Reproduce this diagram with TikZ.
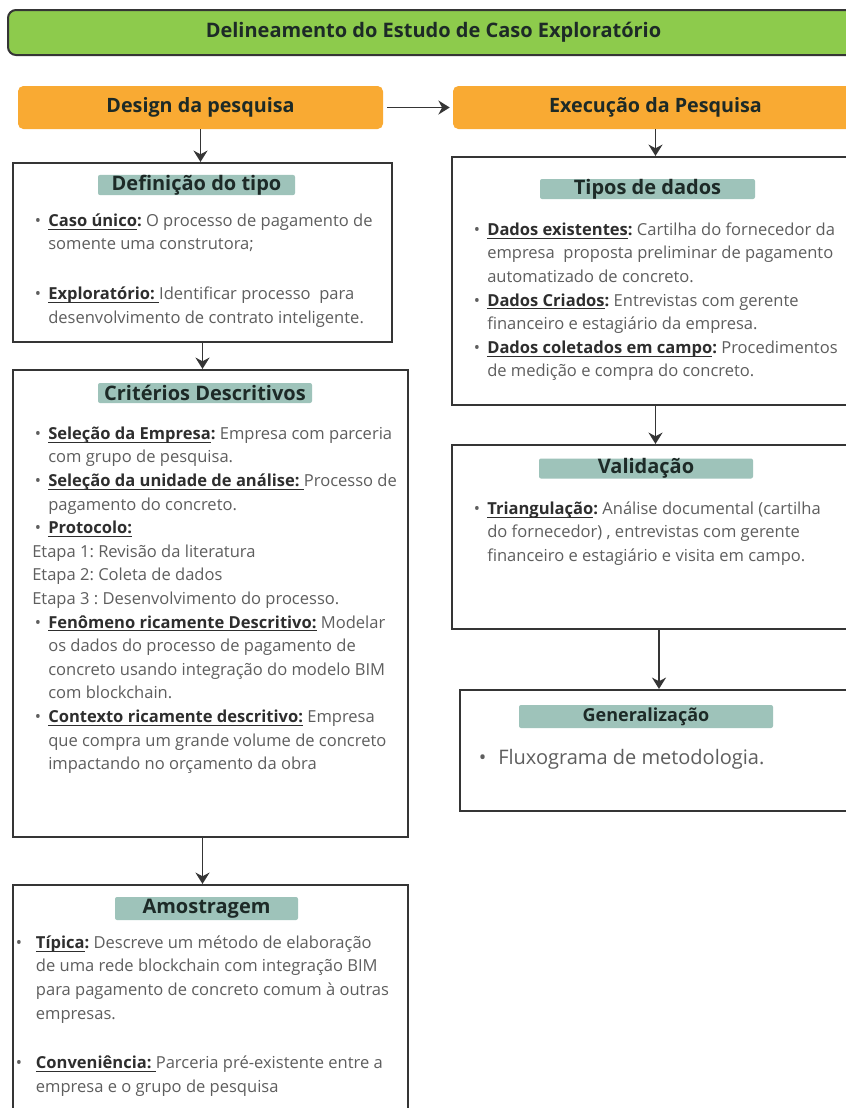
\documentclass[tikz,border=0pt]{standalone}
\usepackage{fontspec}
\setmainfont{Open Sans}
\usetikzlibrary{arrows.meta}

\definecolor{bargreen}{HTML}{8DCB4C}
\definecolor{phasegold}{HTML}{F9AA33}
\definecolor{tagteal}{HTML}{9EC3BA}
\definecolor{lineink}{HTML}{353535}
\definecolor{keyink}{HTML}{2E2E2E}
\definecolor{textgray}{HTML}{5E5E5E}
\definecolor{tagink}{HTML}{1D2A27}

\newdimen\pxu \pxu=0.75pt
\newsavebox{\kwbox}
\newcommand{\kw}[1]{\textbf{\color{keyink}\sbox{\kwbox}{#1}\rlap{\rule[-2.5pt]{\wd\kwbox}{0.75pt}}\usebox{\kwbox}}}
\newcommand{\kc}{\textbf{\color{keyink}:}}
\newcommand{\itemdot}[1][12pt]{\makebox[#1][l]{\hspace{2pt}\textbullet}}
\newcommand{\itemgap}[1][12pt]{\hspace*{#1}}
\frenchspacing

\begin{document}
\begin{tikzpicture}[x=0.75pt, y=-0.75pt,
  banner/.style={draw=lineink, line width=1.5pt, fill=bargreen, rounded corners=6pt,
    font=\fontsize{15}{18}\selectfont\bfseries, text=tagink},
  phase/.style={fill=phasegold, rounded corners=4pt,
    font=\fontsize{14.8}{17}\selectfont\bfseries, text=tagink},
  panel/.style={draw=lineink, line width=1.6pt, fill=white, inner sep=0pt},
  tag/.style={fill=tagteal, rounded corners=1.5pt, inner sep=0pt,
    font=\fontsize{15}{17}\selectfont\bfseries, text=tagink},
  body/.style={anchor=north west, inner sep=0pt, align=left, text=textgray,
    font=\fontsize{12.4}{17.7}\selectfont},
  flow/.style={draw=lineink, line width=1.4pt, -{Stealth[length=8.5pt, width=10.5pt]}}]
  \path[use as bounding box] (0,0) rectangle (846,1108);
  \clip (0,0) rectangle (846,1108);

  % top bar and the two phases
  \node[banner, minimum width=851\pxu, minimum height=45\pxu] (head) at (433.5,32.5)
    {Delineamento do Estudo de Caso Exploratório};
  \node[phase, minimum width=365\pxu, minimum height=43\pxu] (design) at (200.5,107.5) {Design da pesquisa};
  \node[phase, minimum width=405\pxu, minimum height=43\pxu] (exec) at (655.5,107.5) {Execução da Pesquisa};

  % panels
  \node[panel, minimum width=379\pxu, minimum height=179\pxu] (tipo) at (202.5,252.5) {};
  \node[panel, minimum width=395\pxu, minimum height=467\pxu] (crit) at (210.5,603.5) {};
  \node[panel, minimum width=395\pxu, minimum height=240\pxu] (amos) at (210.5,1005) {};
  \node[panel, minimum width=406\pxu, minimum height=248\pxu] (dados) at (655,281) {};
  \node[panel, minimum width=406\pxu, minimum height=184\pxu] (valid) at (655,537) {};
  \node[panel, minimum width=398\pxu, minimum height=121\pxu] (gener) at (659,750.5) {};

  % panel titles
  \node[tag, minimum width=197\pxu, minimum height=19\pxu] (tipotag) at (196.5,185) {Definição do tipo};
  \node[tag, minimum width=214\pxu, minimum height=20\pxu] (crittag) at (205,393) {Critérios Descritivos};
  \node[tag, minimum width=183\pxu, minimum height=23\pxu] (amostag) at (206.5,908.5) {Amostragem};
  \node[tag, minimum width=215\pxu, minimum height=20\pxu] (dadostag) at (647.5,189) {Tipos de dados};
  \node[tag, minimum width=214\pxu, minimum height=19\pxu] (validtag) at (646,468.5) {Validação};
  \node[tag, minimum width=254\pxu, minimum height=23\pxu, font=\fontsize{13.5}{16}\selectfont\bfseries]
    (genertag) at (646,716.5) {Generalização};

  % panel texts
  \node[body] (tipotxt) at (32,209.5) {\strut\itemdot\kw{Caso único}\kc{} O processo de pagamento de\\
    \itemgap somente uma construtora;\\[19.7pt]
    \itemdot\kw{Exploratório: }Identificar processo\ \ para\\
    \itemgap desenvolvimento de contrato inteligente.};
  \node[body] (crittxt) at (32,422.5) {\strut\itemdot\kw{Seleção da Empresa}\kc{} Empresa com parceria\\
    \itemgap com grupo de pesquisa.\\
    \itemdot\kw{Seleção da unidade de análise: }Processo de\\
    \itemgap pagamento do concreto.\\
    \itemdot\kw{Protocolo:}\\
    Etapa 1: Revisão da literatura\\
    Etapa 2: Coleta de dados\\
    Etapa 3 : Desenvolvimento do processo.\\
    \itemdot\kw{Fenômeno ricamente Descritivo:} Modelar\\
    \itemgap os dados do processo de pagamento de\\
    \itemgap concreto usando integração do modelo BIM\\
    \itemgap com blockchain.\\
    \itemdot\kw{Contexto ricamente descritivo:} Empresa\\
    \itemgap que compra um grande volume de concreto\\
    \itemgap impactando no orçamento da obra};
  \node[body] (amostxt) at (13,931.5) {\strut\itemdot[17pt]\kw{Típica}\kc{} Descreve um método de elaboração\\
    \itemgap[17pt]de uma rede blockchain com integração BIM\\
    \itemgap[17pt]para pagamento de concreto comum à outras\\
    \itemgap[17pt]empresas.\\[19.7pt]
    \itemdot[17pt]\kw{Conveniência: }Parceria pré-existente entre a\\
    \itemgap[17pt]empresa e o grupo de pesquisa};
  \node[body] (dadostxt) at (471,218.5) {\strut\itemdot\kw{Dados existentes}\kc{} Cartilha do fornecedor da\\
    \itemgap empresa\ \ proposta preliminar de pagamento\\
    \itemgap automatizado de concreto.\\
    \itemdot\kw{Dados Criados}\kc{} Entrevistas com gerente\\
    \itemgap financeiro e estagiário da empresa.\\
    \itemdot\kw{Dados coletados em campo}\kc{} Procedimentos\\
    \itemgap de medição e compra do concreto.};
  \node[body] (validtxt) at (471,497.5) {\strut\itemdot\kw{Triangulação}\kc{} Análise documental (cartilha\\
    \itemgap do fornecedor) , entrevistas com gerente\\
    \itemgap financeiro e estagiário e visita em campo.};
  \node[body, font=\fontsize{15}{20}\selectfont] (genertxt) at (476,746)
    {\strut\itemdot[16.5pt]Fluxograma de metodologia.};

  % connectors
  \draw[flow, shorten <=4\pxu, shorten >=3\pxu] (design) -- (exec);
  \draw[flow] (design.south) -- (design.south |- tipo.north);
  \draw[flow] (tipo.south) -- (tipo.south |- crit.north);
  \draw[flow] (crit.south -| tipo.south) -- (amos.north -| tipo.south);
  \draw[flow] (exec.south) -- (exec.south |- dados.north);
  \draw[flow] (dados.south -| exec.south) -- (valid.north -| exec.south);
  \draw[flow] (valid.south -| gener.north) -- (gener.north);
\end{tikzpicture}
\end{document}
